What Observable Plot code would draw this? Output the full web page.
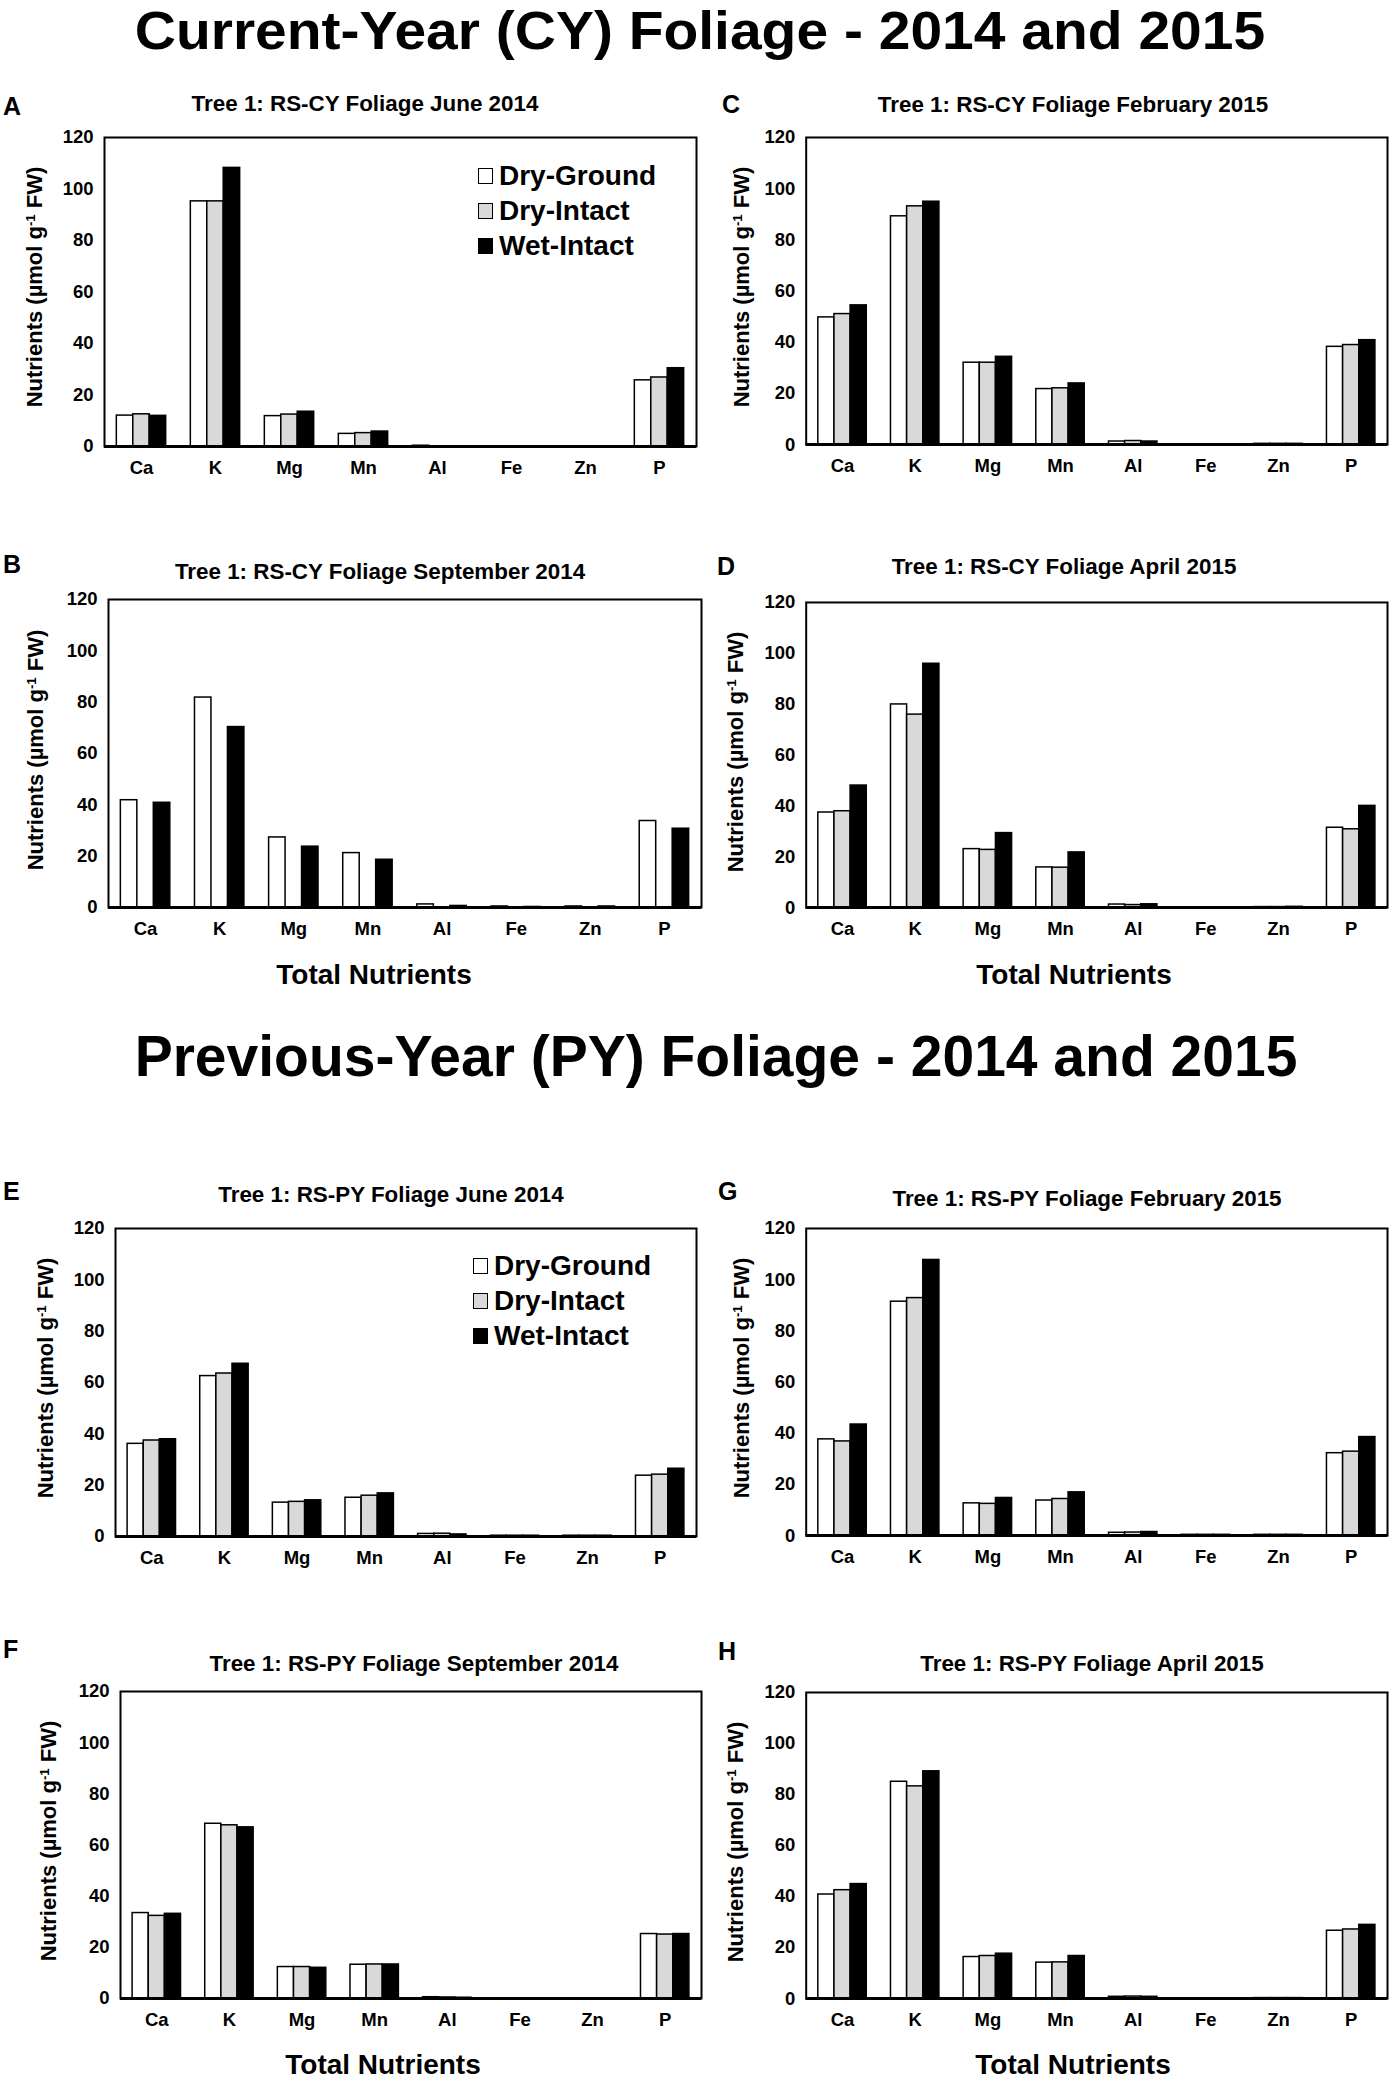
<!DOCTYPE html>
<html>
<head>
<meta charset="utf-8">
<script src="https://cdn.jsdelivr.net/npm/d3@7"></script>
<script src="https://cdn.jsdelivr.net/npm/@observablehq/plot@0.6"></script>
<style>
  html, body { margin: 0; padding: 0; background: #fff; }
  #root { position: relative; width: 1393px; height: 2082px; overflow: hidden; background: #fff; }
  .t { position: absolute; line-height: 1; white-space: nowrap; font-family: "Liberation Sans", Arial, sans-serif; font-weight: bold; color: #000; }
  .t sup { font-size: 0.6em; vertical-align: 0.55em; line-height: 0; }
  .plotbox { position: absolute; }
  .legend { position: absolute; font-family: "Liberation Sans", Arial, sans-serif; font-weight: bold; font-size: 28px; color: #000; }
  .legend .row { display: flex; align-items: center; height: 35px; line-height: 1; white-space: nowrap; }
  .legend .sw { display: inline-block; width: 13px; height: 14px; border: 1.5px solid #000; margin-right: 6px; }
</style>
</head>
<body>
<div id="root"></div>
<script>
// ---------------- data ----------------
const nutrients = ["Ca", "K", "Mg", "Mn", "Al", "Fe", "Zn", "P"];
const seriesNames = ["Dry-Ground", "Dry-Intact", "Wet-Intact"];
const seriesFills = ["#ffffff", "#d9d9d9", "#000000"];
const yTicks = [0, 20, 40, 60, 80, 100, 120];
const yDomain = [0, 120];

const mainTitles = ["Current-Year (CY) Foliage - 2014 and 2015", "Previous-Year (PY) Foliage - 2014 and 2015"];
const panelLetters = ["A", "B", "C", "D", "E", "F", "G", "H"];
const panelTitles = [
  "Tree 1: RS-CY Foliage June 2014",
  "Tree 1: RS-CY Foliage September 2014",
  "Tree 1: RS-CY Foliage February 2015",
  "Tree 1: RS-CY Foliage April 2015",
  "Tree 1: RS-PY Foliage June 2014",
  "Tree 1: RS-PY Foliage September 2014",
  "Tree 1: RS-PY Foliage February 2015",
  "Tree 1: RS-PY Foliage April 2015"
];
const xAxisTitle = "Total Nutrients";

// A: CY June 2014
const A_dryGround = [12.0, 95.2, 11.8, 4.9, 0.3, 0.05, 0.05, 25.7];
const A_dryIntact = [12.5, 95.2, 12.4, 5.2, 0.1, 0.05, 0.05, 26.8];
const A_wetIntact = [11.9, 108.2, 13.5, 5.8, 0.1, 0.05, 0.05, 30.4];
// B: CY September 2014 (no Dry-Intact)
const B_dryGround = [41.8, 81.8, 27.3, 21.2, 1.2, 0.4, 0.4, 33.7];
const B_dryIntact = [null, null, null, null, null, null, null, null];
const B_wetIntact = [40.8, 70.3, 23.7, 18.6, 0.6, 0.2, 0.4, 30.7];
// C: CY February 2015
const C_dryGround = [49.7, 89.2, 32.0, 21.7, 1.2, 0.1, 0.3, 38.2];
const C_dryIntact = [51.0, 93.1, 32.0, 22.0, 1.4, 0.1, 0.3, 38.9];
const C_wetIntact = [54.4, 94.9, 34.3, 23.9, 1.2, 0.1, 0.3, 40.8];
// D: CY April 2015
const D_dryGround = [37.4, 79.9, 23.0, 15.8, 1.2, 0.1, 0.2, 31.4];
const D_dryIntact = [37.9, 75.9, 22.7, 15.7, 1.0, 0.1, 0.2, 30.8];
const D_wetIntact = [48.0, 95.9, 29.3, 21.7, 1.3, 0.1, 0.3, 40.0];
// E: PY June 2014
const E_dryGround = [36.1, 62.5, 13.2, 15.1, 1.0, 0.3, 0.3, 23.7];
const E_dryIntact = [37.4, 63.5, 13.5, 15.9, 1.1, 0.3, 0.3, 24.1];
const E_wetIntact = [37.9, 67.3, 14.1, 16.8, 0.8, 0.3, 0.3, 26.4];
// F: PY September 2014
const F_dryGround = [33.4, 68.3, 12.3, 13.2, 0.5, 0.1, 0.1, 25.2];
const F_dryIntact = [32.3, 67.7, 12.3, 13.3, 0.4, 0.1, 0.1, 25.0];
const F_wetIntact = [33.1, 66.9, 12.0, 13.3, 0.3, 0.1, 0.1, 25.2];
// G: PY February 2015
const G_dryGround = [37.6, 91.4, 12.6, 13.7, 1.1, 0.3, 0.3, 32.2];
const G_dryIntact = [36.8, 92.8, 12.4, 14.3, 1.2, 0.3, 0.3, 32.8];
const G_wetIntact = [43.4, 107.7, 14.7, 16.9, 1.4, 0.3, 0.3, 38.5];
// H: PY April 2015
const H_dryGround = [40.8, 85.0, 16.3, 14.1, 0.7, 0.1, 0.2, 26.6];
const H_dryIntact = [42.5, 83.2, 16.7, 14.2, 0.8, 0.1, 0.2, 27.1];
const H_wetIntact = [44.9, 89.1, 17.6, 16.7, 0.7, 0.1, 0.2, 28.9];

// ---------------- layout ----------------
const FONT = '"Liberation Sans", Arial, sans-serif';
const root = document.getElementById("root");

function txt(html, x, baseline, size, anchor, lh, sx) {
  lh = lh || 1;
  const d = document.createElement("div");
  d.className = "t";
  d.style.fontSize = size + "px";
  d.style.lineHeight = String(lh);
  d.style.left = x + "px";
  // baseline offset within a line box of height lh (Liberation Sans: ascent .905, descent .212)
  const off = (lh - 1.117) / 2 + 0.905;
  d.style.top = (baseline - off * size) + "px";
  let tr = "";
  if (anchor === "middle") tr += "translateX(-50%) ";
  if (sx) { tr += "scaleX(" + sx + ")"; d.style.transformOrigin = "0 0"; }
  if (sx && anchor === "middle") { d.style.transformOrigin = "50% 0"; tr = "translateX(-50%) scaleX(" + sx + ")"; }
  if (tr) d.style.transform = tr;
  d.innerHTML = html;
  root.appendChild(d);
  return d;
}
function ylab(cx, cy, size) {
  const d = document.createElement("div");
  d.className = "t";
  d.style.fontSize = size + "px";
  d.style.left = cx + "px";
  d.style.top = cy + "px";
  d.style.transform = "translate(-50%,-50%) rotate(-90deg)";
  d.innerHTML = "Nutrients (µmol g<sup>-1</sup> FW)";
  root.appendChild(d);
}
function legend(x, y) {
  const L = document.createElement("div");
  L.className = "legend";
  L.style.left = x + "px";
  L.style.top = y + "px";
  seriesNames.forEach((n, j) => {
    const r = document.createElement("div");
    r.className = "row";
    const sw = document.createElement("span");
    sw.className = "sw";
    sw.style.background = seriesFills[j];
    r.appendChild(sw);
    r.appendChild(document.createTextNode(n));
    L.appendChild(r);
  });
  root.appendChild(L);
}

// main titles
txt(mainTitles[0], 700, 49, 54, "middle", 1, 1.055);
txt(mainTitles[1], 716, 1076, 57, "middle");

const panels = [
  {key: "A", vals: [A_dryGround, A_dryIntact, A_wetIntact], f: [104, 696, 137, 446], title: [365, 112], letter: [3, 115], yl: [35, 287], legend: [478, 158]},
  {key: "B", vals: [B_dryGround, B_dryIntact, B_wetIntact], f: [108, 701, 599, 907], title: [380, 580], letter: [3, 573], yl: [36, 750], xt: [374, 985]},
  {key: "C", vals: [C_dryGround, C_dryIntact, C_wetIntact], f: [806, 1389, 137, 445], title: [1073, 113], letter: [722, 113], yl: [742, 287]},
  {key: "D", vals: [D_dryGround, D_dryIntact, D_wetIntact], f: [806, 1389, 602, 908], title: [1064, 575], letter: [717, 575], yl: [736, 752], xt: [1074, 985]},
  {key: "E", vals: [E_dryGround, E_dryIntact, E_wetIntact], f: [115, 696, 1228, 1536], title: [391, 1203], letter: [3, 1200], yl: [46, 1378], legend: [473, 1248]},
  {key: "F", vals: [F_dryGround, F_dryIntact, F_wetIntact], f: [120, 701, 1691, 1998], title: [414, 1672], letter: [3, 1658], yl: [49, 1841], xt: [383, 2075]},
  {key: "G", vals: [G_dryGround, G_dryIntact, G_wetIntact], f: [806, 1389, 1228, 1536], title: [1087, 1207], letter: [718, 1200], yl: [742, 1378]},
  {key: "H", vals: [H_dryGround, H_dryIntact, H_wetIntact], f: [806, 1389, 1692, 1999], title: [1092, 1672], letter: [718, 1660], yl: [736, 1842], xt: [1073, 2075]}
];

panels.forEach((p, pi) => {
  const [fl, fr, ft, fb] = p.f;
  const left = fl < 700 ? 0 : 700;
  const top = ft - 6;
  const width = fr + 6 - left;
  const mTop = 6, mBottom = 44;
  const height = (fb - ft) + mTop + mBottom;
  const s = (fr - fl) / nutrients.length;   // band step
  const w = s / 4.5;                         // bar width (gap = 150%)

  const marks = seriesNames.map((name, j) => {
    const data = nutrients.map((n, i) => ({nutrient: n, value: p.vals[j][i], series: name}))
      .filter(d => d.value != null);
    return Plot.barY(data, {
      x: "nutrient", y: "value",
      fill: seriesFills[j], stroke: "#000", strokeWidth: 1.5,
      insetLeft: s / 6 + j * w,
      insetRight: s - s / 6 - (j + 1) * w
    });
  });

  const chart = Plot.plot({
    width, height,
    marginLeft: fl - left, marginRight: width - (fr - left),
    marginTop: mTop, marginBottom: mBottom,
    x: {type: "band", domain: nutrients, padding: 0, round: false, label: null, tickSize: 0, tickPadding: 14},
    y: {domain: yDomain, ticks: yTicks, label: null, tickSize: 0, tickPadding: 11, tickFormat: d => String(d)},
    style: {fontFamily: FONT, fontWeight: "bold", fontSize: "18.5px", color: "#000", background: "transparent", overflow: "visible"},
    marks: [
      ...marks,
      Plot.ruleY([0], {stroke: "#000", strokeWidth: 3}),
      Plot.frame({stroke: "#000", strokeWidth: 2})
    ]
  });
  const box = document.createElement("div");
  box.className = "plotbox";
  box.style.left = left + "px";
  box.style.top = top + "px";
  box.appendChild(chart);
  root.appendChild(box);

  txt(panelTitles[pi], p.title[0], p.title[1], 22.4, "middle");
  txt(panelLetters[pi], p.letter[0], p.letter[1], 25, "start");
  ylab(p.yl[0], p.yl[1], 22);
  if (p.xt) txt(xAxisTitle, p.xt[0], p.xt[1], 28, "middle");
  if (p.legend) legend(p.legend[0], p.legend[1]);
});
</script>
</body>
</html>
